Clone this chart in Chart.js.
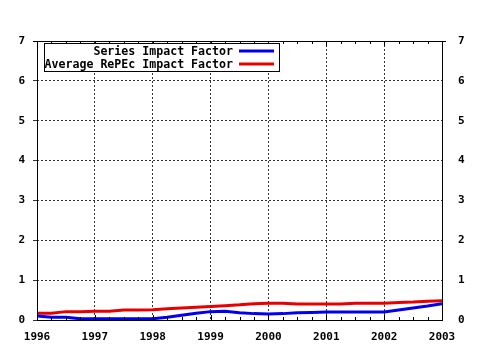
<!DOCTYPE html>
<html>
<head>
<meta charset="utf-8">
<script src="https://cdn.jsdelivr.net/npm/chart.js@4/dist/chart.umd.min.js"></script>
<style>
  html, body { margin: 0; padding: 0; background: #fff; }
  #wrap { width: 480px; height: 350px; position: relative; }
</style>
</head>
<body>
<div id="wrap"><canvas id="impactChart"></canvas></div>
<script>
// Quarterly sample points
const quarters = [
    1996, 1996.25, 1996.5, 1996.75,
    1997, 1997.25, 1997.5, 1997.75,
    1998, 1998.25, 1998.5, 1998.75,
    1999, 1999.25, 1999.5, 1999.75,
    2000, 2000.25, 2000.5, 2000.75,
    2001, 2001.25, 2001.5, 2001.75,
    2002, 2002.25, 2002.5, 2002.75,
    2003
];
const seriesImpact = [
    0.10, 0.07, 0.07, 0.03,
    0.03, 0.03, 0.03, 0.03,
    0.03, 0.07, 0.12, 0.17,
    0.21, 0.22, 0.18, 0.16,
    0.15, 0.16, 0.18, 0.19,
    0.20, 0.20, 0.20, 0.20,
    0.20, 0.25, 0.30, 0.35,
    0.41
];
const averageImpact = [
    0.17, 0.17, 0.21, 0.21,
    0.22, 0.22, 0.25, 0.25,
    0.26, 0.28, 0.30, 0.32,
    0.34, 0.36, 0.38, 0.41,
    0.42, 0.42, 0.40, 0.40,
    0.40, 0.40, 0.42, 0.42,
    0.42, 0.44, 0.45, 0.47,
    0.48
];
const seriesLabels = ['Series Impact Factor', 'Average RePEc Impact Factor'];
const yearTicks = [1996, 1997, 1998, 1999, 2000, 2001, 2002, 2003];

const FONT = 'DejaVu Sans Mono';

// frame, quarter ticks and the boxed legend
const framePlugin = {
    id: 'frame',
    afterDatasetsDraw(chart) {
        const { ctx, chartArea: a, scales } = chart;
        ctx.save();
        ctx.strokeStyle = '#000';
        ctx.lineWidth = 1;
        ctx.setLineDash([]);
        ctx.strokeRect(a.left + 0.5, a.top + 0.5, a.right - a.left, a.bottom - a.top);
        // top edge sticks out a little on both sides
        ctx.beginPath();
        ctx.moveTo(a.left - 4, a.top + 0.5);
        ctx.lineTo(a.right + 4, a.top + 0.5);
        ctx.stroke();

        // small ticks on top and bottom edges
        quarters.forEach(q => {
            const x = Math.round(scales.x.getPixelForValue(q)) + 0.5;
            const len = Number.isInteger(q) ? 5 : 3;
            ctx.beginPath();
            ctx.moveTo(x, a.bottom);
            ctx.lineTo(x, a.bottom - len);
            ctx.moveTo(x, a.top);
            ctx.lineTo(x, a.top + len);
            ctx.stroke();
        });

        // legend box
        const bx = 44, by = 43, bw = 235, bh = 28;
        ctx.fillStyle = '#fff';
        ctx.fillRect(bx, by, bw, bh);
        ctx.strokeRect(bx + 0.5, by + 0.5, bw, bh);
        ctx.font = 'bold 11.6px "' + FONT + '"';
        ctx.textAlign = 'right';
        ctx.textBaseline = 'middle';
        chart.data.datasets.forEach((ds, i) => {
            const cy = by + 8 + i * 13;
            ctx.fillStyle = '#000';
            ctx.fillText(ds.label, 233, cy + 1);
            ctx.strokeStyle = ds.borderColor;
            ctx.lineWidth = 3;
            ctx.beginPath();
            ctx.moveTo(239, cy);
            ctx.lineTo(274, cy);
            ctx.stroke();
        });
        ctx.restore();
    }
};

const tickFont = { family: FONT, size: 11, weight: 'bold' };

new Chart(document.getElementById('impactChart'), {
    type: 'line',
    data: {
        datasets: [
            {
                label: seriesLabels[0],
                data: quarters.map((q, i) => ({ x: q, y: seriesImpact[i] })),
                borderColor: '#0000ee',
                borderWidth: 3,
                pointRadius: 0,
                tension: 0,
                fill: false
            },
            {
                label: seriesLabels[1],
                data: quarters.map((q, i) => ({ x: q, y: averageImpact[i] })),
                borderColor: '#e80000',
                borderWidth: 3,
                pointRadius: 0,
                tension: 0,
                fill: false
            }
        ]
    },
    options: {
        responsive: true,
        maintainAspectRatio: false,
        animation: false,
        layout: { padding: { top: 41, left: 0, right: 0, bottom: 0 } },
        plugins: {
            legend: { display: false },
            tooltip: { enabled: false }
        },
        scales: {
            x: {
                type: 'linear',
                min: 1996,
                max: 2003,
                afterBuildTicks: scale => {
                    scale.ticks = yearTicks.map(v => ({ value: v }));
                },
                afterFit: scale => { scale.height = 30; },
                grid: {
                    color: '#333',
                    drawTicks: false
                },
                border: { display: false, dash: [2, 2] },
                ticks: {
                    color: '#000',
                    font: tickFont,
                    padding: 11,
                    maxRotation: 0,
                    callback: v => String(v)
                }
            },
            y: {
                position: 'left',
                min: 0,
                max: 7,
                afterFit: scale => { scale.width = 37; },
                grid: {
                    color: '#333',
                    tickLength: 4
                },
                border: { display: false, dash: [2, 2] },
                ticks: {
                    stepSize: 1,
                    color: '#000',
                    font: tickFont,
                    padding: 8
                }
            },
            yRight: {
                position: 'right',
                min: 0,
                max: 7,
                afterFit: scale => { scale.width = 38; },
                grid: {
                    drawOnChartArea: false,
                    drawTicks: false
                },
                border: { display: false },
                ticks: {
                    stepSize: 1,
                    color: '#000',
                    font: tickFont,
                    padding: 16
                }
            }
        }
    },
    plugins: [framePlugin]
});
</script>
</body>
</html>
